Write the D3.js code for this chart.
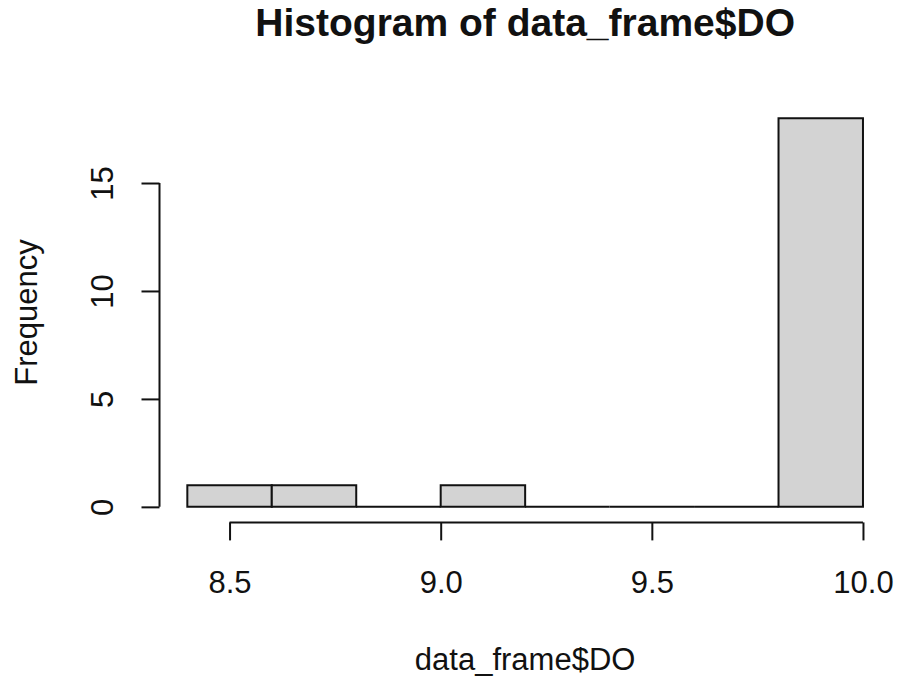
<!DOCTYPE html>
<html>
<head>
<meta charset="utf-8">
<script src="https://cdn.jsdelivr.net/npm/d3@7"></script>
<style>
  html, body { margin: 0; padding: 0; background: #fff; }
  svg { display: block; font-family: "Liberation Sans", Arial, sans-serif; }
</style>
</head>
<body>
<svg id="chart" width="898" height="684"></svg>
<script>
// Histogram bins of dissolved oxygen (DO) readings
const binEdges = [8.4, 8.6, 8.8, 9.0, 9.2, 9.4, 9.6, 9.8, 10.0];
const binCounts = [1, 1, 0, 1, 0, 0, 0, 18];
const xTicks = [8.5, 9.0, 9.5, 10.0];
const xTickLabels = ["8.5", "9.0", "9.5", "10.0"];
const yTicks = [0, 5, 10, 15];
const yTickLabels = ["0", "5", "10", "15"];
const titleText = "Histogram of data_frame$DO";
const xLabelText = "data_frame$DO";
const yLabelText = "Frequency";

const svg = d3.select("#chart");

// plot region (data range padded 4% on each side)
const plotLeft = 160.3, plotRight = 890, plotTop = 102.7, plotBottom = 522.4;

const xPad = (binEdges[binEdges.length - 1] - binEdges[0]) * 0.04;
const x = d3.scaleLinear()
  .domain([binEdges[0] - xPad, binEdges[binEdges.length - 1] + xPad])
  .range([plotLeft, plotRight]);

const yMax = d3.max(binCounts);
const y = d3.scaleLinear()
  .domain([-yMax * 0.04, yMax * 1.04])
  .range([plotBottom, plotTop]);

const bins = binCounts.map((c, i) => ({ x0: binEdges[i], x1: binEdges[i + 1], count: c }));

// bars as closed outlines, so empty bins still show along the baseline
function barPath(d) {
  const p = d3.path();
  p.moveTo(x(d.x0), y(0));
  p.lineTo(x(d.x1), y(0));
  p.lineTo(x(d.x1), y(d.count));
  p.lineTo(x(d.x0), y(d.count));
  p.closePath();
  return p.toString();
}

svg.append("g")
  .selectAll("path")
  .data(bins)
  .join("path")
  .attr("d", barPath)
  .attr("fill", "#d3d3d3")
  .attr("stroke", "#111")
  .attr("stroke-width", 2);

const tickLen = 18;
const fontSize = 31;

// x axis
const xAxis = svg.append("g")
  .attr("transform", `translate(0,${plotBottom})`)
  .call(d3.axisBottom(x)
    .tickValues(xTicks)
    .tickFormat((d, i) => xTickLabels[i])
    .tickSize(tickLen)
    .tickSizeOuter(0));
xAxis.select(".domain").remove();
xAxis.append("line")
  .attr("x1", x(xTicks[0])).attr("x2", x(xTicks[xTicks.length - 1]))
  .attr("y1", 0).attr("y2", 0)
  .attr("stroke", "#111").attr("stroke-width", 2);
xAxis.selectAll(".tick line").attr("stroke", "#111").attr("stroke-width", 2);
xAxis.selectAll(".tick text")
  .attr("y", 70.5)
  .attr("dy", null)
  .attr("fill", "#111")
  .style("font-size", fontSize + "px")
  .style("font-family", "'Liberation Sans', Arial, sans-serif");

// y axis
const yAxisX = plotLeft - 0.8;
const yAxis = svg.append("g")
  .attr("transform", `translate(${yAxisX},0)`)
  .call(d3.axisLeft(y)
    .tickValues(yTicks)
    .tickFormat((d, i) => yTickLabels[i])
    .tickSize(tickLen)
    .tickSizeOuter(0));
yAxis.select(".domain").remove();
yAxis.append("line")
  .attr("x1", 0).attr("x2", 0)
  .attr("y1", y(yTicks[0])).attr("y2", y(yTicks[yTicks.length - 1]))
  .attr("stroke", "#111").attr("stroke-width", 2);
yAxis.selectAll(".tick line").attr("stroke", "#111").attr("stroke-width", 2);
yAxis.selectAll(".tick text")
  .attr("x", null)
  .attr("dy", null)
  .attr("text-anchor", "middle")
  .attr("transform", "translate(-47,0) rotate(-90)")
  .attr("fill", "#111")
  .style("font-size", fontSize + "px")
  .style("font-family", "'Liberation Sans', Arial, sans-serif");

// title
svg.append("text")
  .attr("x", (plotLeft + plotRight) / 2)
  .attr("y", 36)
  .attr("text-anchor", "middle")
  .attr("font-weight", "bold")
  .attr("font-size", 39)
  .attr("fill", "#111")
  .text(titleText);

// x label
svg.append("text")
  .attr("x", (plotLeft + plotRight) / 2)
  .attr("y", 670)
  .attr("text-anchor", "middle")
  .attr("font-size", fontSize)
  .attr("fill", "#111")
  .text(xLabelText);

// y label
svg.append("text")
  .attr("transform", `translate(36.7,${(plotTop + plotBottom) / 2}) rotate(-90)`)
  .attr("text-anchor", "middle")
  .attr("font-size", fontSize)
  .attr("fill", "#111")
  .text(yLabelText);
</script>
</body>
</html>
